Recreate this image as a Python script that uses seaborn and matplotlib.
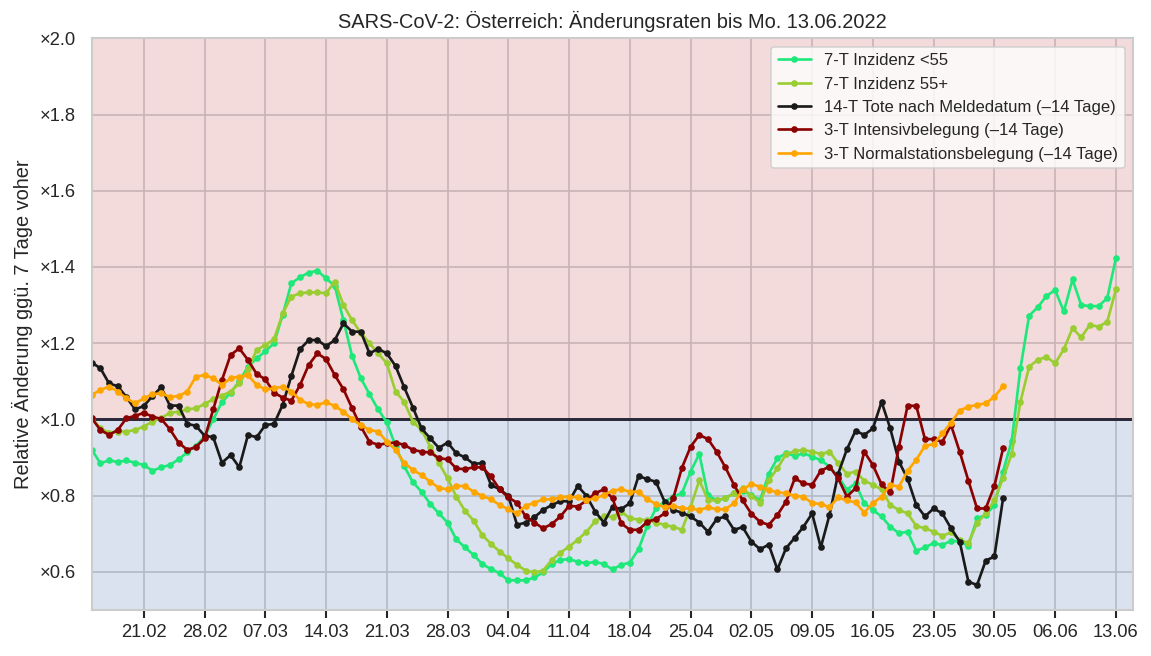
import numpy as np
import pandas as pd
import matplotlib
matplotlib.use('Agg')
import matplotlib.pyplot as plt
import matplotlib.dates as mdates
import seaborn as sns

# daily values from 15.02.2022 on
start_day = '2022-02-15'

inz_u55 = [0.92, 0.885, 0.892, 0.888, 0.892, 0.886, 0.88, 0.865, 0.874, 0.88,
           0.895, 0.913, 0.93, 0.955, 1.0, 1.045, 1.07, 1.10, 1.138, 1.16,
           1.178, 1.20, 1.274, 1.357, 1.373, 1.385, 1.39, 1.37, 1.35, 1.26,
           1.166, 1.108, 1.066, 1.026, 0.992, 0.93, 0.877, 0.835, 0.81, 0.778,
           0.753, 0.729, 0.685, 0.664, 0.644, 0.62, 0.607, 0.596, 0.577, 0.578,
           0.577, 0.585, 0.598, 0.62, 0.631, 0.633, 0.626, 0.622, 0.626, 0.62,
           0.606, 0.618, 0.624, 0.659, 0.72, 0.766, 0.784, 0.797, 0.806, 0.863,
           0.909, 0.801, 0.787, 0.793, 0.806, 0.812, 0.801, 0.788, 0.857, 0.898,
           0.911, 0.904, 0.911, 0.902, 0.893, 0.876, 0.85, 0.815, 0.832, 0.78,
           0.762, 0.745, 0.718, 0.701, 0.705, 0.655, 0.664, 0.675, 0.67, 0.681,
           0.679, 0.668, 0.74, 0.749, 0.775, 0.863, 0.944, 1.134, 1.272, 1.294,
           1.324, 1.339, 1.283, 1.367, 1.30, 1.297, 1.297, 1.318, 1.423]

inz_55p = [1.003, 0.976, 0.965, 0.968, 0.968, 0.972, 0.981, 0.994, 1.003, 1.017,
           1.02, 1.026, 1.029, 1.04, 1.053, 1.062, 1.073, 1.094, 1.131, 1.182,
           1.195, 1.21, 1.278, 1.322, 1.331, 1.333, 1.333, 1.331, 1.361, 1.30,
           1.26, 1.227, 1.20, 1.173, 1.147, 1.073, 1.046, 0.994, 0.972, 0.928,
           0.885, 0.845, 0.797, 0.76, 0.734, 0.696, 0.673, 0.653, 0.635, 0.618,
           0.603, 0.598, 0.603, 0.631, 0.65, 0.666, 0.684, 0.705, 0.732, 0.746,
           0.744, 0.758, 0.74, 0.737, 0.735, 0.729, 0.723, 0.718, 0.71, 0.77,
           0.84, 0.788, 0.787, 0.793, 0.806, 0.819, 0.799, 0.781, 0.84, 0.871,
           0.909, 0.916, 0.92, 0.915, 0.909, 0.915, 0.885, 0.857, 0.863, 0.839,
           0.828, 0.816, 0.775, 0.762, 0.753, 0.72, 0.714, 0.705, 0.694, 0.703,
           0.683, 0.676, 0.727, 0.753, 0.788, 0.845, 0.91, 1.046, 1.138, 1.156,
           1.164, 1.147, 1.184, 1.239, 1.215, 1.248, 1.243, 1.256, 1.341]

tote = [1.149, 1.134, 1.094, 1.087, 1.058, 1.026, 1.035, 1.061, 1.084, 1.036,
        1.036, 0.988, 0.983, 0.957, 0.953, 0.886, 0.906, 0.874, 0.959, 0.953,
        0.985, 0.988, 1.038, 1.114, 1.184, 1.208, 1.208, 1.192, 1.208, 1.252,
        1.23, 1.23, 1.173, 1.185, 1.173, 1.14, 1.084, 1.031, 0.976, 0.95,
        0.925, 0.939, 0.911, 0.90, 0.883, 0.885, 0.828, 0.816, 0.799, 0.723,
        0.729, 0.743, 0.762, 0.775, 0.785, 0.785, 0.825, 0.799, 0.758, 0.729,
        0.771, 0.764, 0.78, 0.851, 0.843, 0.836, 0.784, 0.762, 0.755, 0.745,
        0.729, 0.705, 0.738, 0.745, 0.71, 0.717, 0.679, 0.659, 0.671, 0.606,
        0.662, 0.689, 0.718, 0.753, 0.664, 0.749, 0.857, 0.921, 0.97, 0.959,
        0.976, 1.046, 0.976, 0.889, 0.844, 0.775, 0.745, 0.766, 0.753, 0.714,
        0.679, 0.574, 0.565, 0.629, 0.64, 0.793]

icu = [1.003, 0.972, 0.959, 0.972, 1.003, 1.009, 1.017, 1.007, 1.001, 0.974,
       0.939, 0.92, 0.927, 0.95, 1.026, 1.103, 1.169, 1.186, 1.156, 1.119,
       1.105, 1.07, 1.057, 1.049, 1.09, 1.143, 1.173, 1.158, 1.116, 1.079,
       1.029, 0.981, 0.941, 0.933, 0.937, 0.939, 0.933, 0.92, 0.915, 0.913,
       0.898, 0.895, 0.871, 0.869, 0.874, 0.874, 0.85, 0.816, 0.795, 0.781,
       0.745, 0.729, 0.714, 0.725, 0.745, 0.773, 0.771, 0.787, 0.806, 0.816,
       0.793, 0.727, 0.71, 0.71, 0.731, 0.738, 0.753, 0.793, 0.873, 0.928,
       0.959, 0.948, 0.915, 0.874, 0.828, 0.787, 0.752, 0.731, 0.723, 0.749,
       0.784, 0.845, 0.832, 0.828, 0.865, 0.876, 0.845, 0.797, 0.819, 0.915,
       0.88, 0.829, 0.808, 0.928, 1.036, 1.035, 0.948, 0.948, 0.941, 0.985,
       0.915, 0.839, 0.766, 0.766, 0.825, 0.924]

normal = [1.064, 1.077, 1.086, 1.073, 1.055, 1.042, 1.055, 1.066, 1.068, 1.059,
          1.061, 1.073, 1.112, 1.116, 1.108, 1.09, 1.108, 1.112, 1.116, 1.09,
          1.079, 1.081, 1.086, 1.073, 1.051, 1.04, 1.038, 1.045, 1.035, 1.02,
          1.0, 0.985, 0.972, 0.968, 0.941, 0.92, 0.886, 0.867, 0.854, 0.836,
          0.82, 0.816, 0.825, 0.825, 0.81, 0.799, 0.79, 0.775, 0.764, 0.753,
          0.773, 0.781, 0.79, 0.79, 0.795, 0.797, 0.795, 0.787, 0.793, 0.801,
          0.813, 0.816, 0.81, 0.81, 0.79, 0.778, 0.769, 0.773, 0.766, 0.766,
          0.762, 0.769, 0.764, 0.764, 0.78, 0.816, 0.83, 0.823, 0.815, 0.808,
          0.806, 0.799, 0.797, 0.78, 0.778, 0.769, 0.795, 0.787, 0.782, 0.755,
          0.78, 0.797, 0.828, 0.823, 0.865, 0.894, 0.93, 0.935, 0.963, 0.991,
          1.023, 1.033, 1.038, 1.042, 1.059, 1.087]

labels = ['7-T Inzidenz <55', '7-T Inzidenz 55+',
          '14-T Tote nach Meldedatum (\u201314 Tage)',
          '3-T Intensivbelegung (\u201314 Tage)',
          '3-T Normalstationsbelegung (\u201314 Tage)']
colors = ['#1ee87a', 'yellowgreen', '#1a1a1a', 'darkred', 'orange']
y_ticks = [0.6, 0.8, 1.0, 1.2, 1.4, 1.6, 1.8, 2.0]

sns.set_theme(style='whitegrid')
plt.rcParams['font.family'] = ['Liberation Sans', 'DejaVu Sans']

dates = pd.date_range(start_day, periods=len(inz_u55), freq='D')
frames = []
for name, vals in zip(labels, [inz_u55, inz_55p, tote, icu, normal]):
    frames.append(pd.DataFrame({'datum': dates[:len(vals)], 'wert': vals, 'serie': name}))
df = pd.concat(frames, ignore_index=True)

fig, ax = plt.subplots(figsize=(9.5917, 5.4667), dpi=120)
fig.subplots_adjust(left=0.0797, right=0.9846, top=0.9416, bottom=0.0704)

pal = sns.color_palette()
ax.axhspan(1, 2, color=pal[3], alpha=0.2, lw=0)
ax.axhspan(0.5, 1, color=pal[0], alpha=0.2, lw=0)
ax.axhline(1, color='#2b2b3b', lw=1.8, zorder=1.5)

sns.lineplot(data=df, x='datum', y='wert', hue='serie', hue_order=labels,
             palette=colors, marker='o', markersize=4, markeredgewidth=0,
             linewidth=1.6, ax=ax)

leg = ax.get_legend()
handles = leg.legend_handles
ax.legend(handles, labels, loc='upper right', fontsize=10)

ax.set_xlim(pd.Timestamp('2022-02-15'), pd.Timestamp('2022-06-15'))
ax.set_ylim(0.5, 2.0)
ax.xaxis.set_major_locator(mdates.WeekdayLocator(byweekday=mdates.MO))
ax.xaxis.set_major_formatter(mdates.DateFormatter('%d.%m'))
ax.set_yticks(y_ticks)
ax.set_yticklabels(['\u00d7%.1f' % v for v in y_ticks])
ax.tick_params(axis='x', bottom=True, length=5, width=1.25, color='#262626')
ax.set_xlabel('')
ax.set_ylabel('Relative \u00c4nderung gg\u00fc. 7 Tage voher')
ax.set_title('SARS-CoV-2: \u00d6sterreich: \u00c4nderungsraten bis Mo. 13.06.2022')

plt.savefig('out.png')
